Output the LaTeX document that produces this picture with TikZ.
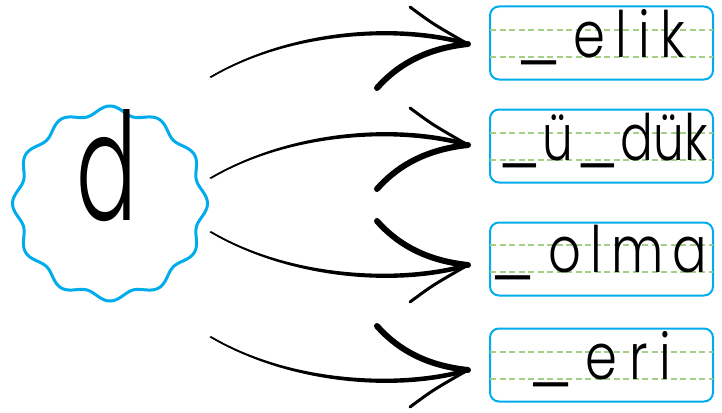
\documentclass[tikz,border=0pt]{standalone}
\usepackage{fontspec}
\newfontfamily\schoolfont{Poppins Light}
\usetikzlibrary{calc}
\definecolor{wavyblue}{RGB}{0,172,236}
\definecolor{guidegreen}{RGB}{165,206,135}
\newcommand\narrowword[2]{\scalebox{0.8}[1]{\addfontfeature{LetterSpace=#1}#2}}
\newcommand\blank{\raisebox{-1.5pt}{\scalebox{1.35}[1]{\_}}}
\tikzset{
  wordbox/.style={draw=wavyblue, line width=2pt, rounded corners=9pt,
    minimum width=223pt, minimum height=73pt, inner sep=0pt},
  guide/.style={draw=guidegreen, line width=1.3pt, dash pattern=on 6pt off 3.5pt},
  word/.style={anchor=base, inner sep=0pt, font=\schoolfont\fontsize{64}{64}\selectfont},
  curvearrow/.pic={
    \fill (-258,33) .. controls (-178,-15.5) and (-68,-22.5) .. (0,-2.3)
      -- (0,2.3) .. controls (-68,-17.5) and (-178,-12.5) .. (-257,34) -- cycle;
    \draw[line width=0.9pt, line cap=round] (-258,33) .. controls (-178,-14) and (-68,-20) .. (0,0);
    \draw[line width=3pt, line cap=round] (-58,-37) .. controls (-35,-20) .. (0,0);
    \draw[line width=6pt, line cap=round] (-91,44) .. controls (-68,18) and (-38,4) .. (0,0);
  }
}
\begin{document}
\begin{tikzpicture}[x=1pt,y=-1pt]
\useasboundingbox (0,0) rectangle (722,412);
% wavy circle
\coordinate (c) at (110,203.5);
\begin{scope}[shift={(c)}]
\draw[wavyblue, line width=3pt] plot[domain=0:360, samples=361, smooth]
  (\x:{93.5+4*cos(12*\x)}) -- cycle;
\end{scope}
\node[anchor=base, inner sep=0pt] (d) at (107,220)
  {\scalebox{0.6}[1]{\schoolfont\fontsize{150}{150}\selectfont d}};
% boxes
\node[wordbox] (b1) at (601.5,43) {};
\node[wordbox] (b2) at (601.5,146) {};
\node[wordbox] (b3) at (601.5,259) {};
\node[wordbox] (b4) at (601.5,365) {};
\foreach \b/\u/\l in {b1/-13/14, b2/-13/14, b3/-14/13, b4/-13/14}{
  \draw[guide] ($(\b.west)+(1,\u)$) -- ($(\b.east)+(-1,\u)$);
  \draw[guide] ($(\b.west)+(1,\l)$) -- ($(\b.east)+(-1,\l)$);
}
\node[word] (w1) at ($(b1.center)+(-1,14)$) {\narrowword{21}{\blank\hspace{14pt}elik}};
\node[word] (w2) at ($(b2.center)+(1,14)$) {\scalebox{0.95}[1]{\narrowword{0}{\blank\hspace{2pt}ü\hspace{2pt}\blank\hspace{2pt}dük}}};
\node[word] (w3) at ($(b3.center)+(-3,13)$) {\narrowword{18}{\blank\hspace{15pt}olma}};
\node[word] (w4) at ($(b4.center)+(-2,14)$) {\narrowword{23}{\blank\hspace{14pt}eri}};
% arrows
\coordinate (t1) at (468,44);
\coordinate (t2) at (468,145);
\coordinate (t3) at (468,265);
\coordinate (t4) at (468,370);
\pic at (t1) {curvearrow};
\pic at (t2) {curvearrow};
\pic[yscale=-1] at (t3) {curvearrow};
\pic[yscale=-1] at (t4) {curvearrow};
\end{tikzpicture}
\end{document}
